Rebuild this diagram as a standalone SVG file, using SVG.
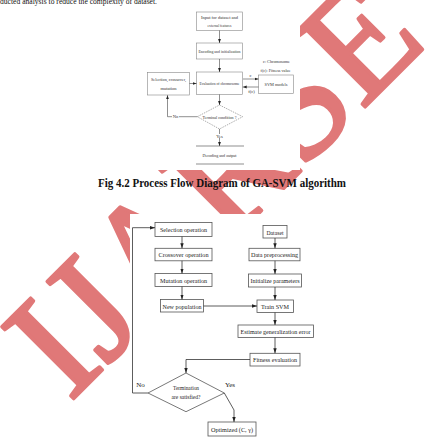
<svg xmlns="http://www.w3.org/2000/svg" width="438" height="445" viewBox="0 0 438 445">
<defs>
<style>
.wm{font-family:"Liberation Serif","Times New Roman",serif;font-size:155px;fill:#e07878;stroke:#e07878;stroke-width:3.5;stroke-linejoin:round}
.body{font-family:"Liberation Serif","Times New Roman",serif;font-size:9px;fill:#111}
.cap{font-family:"Liberation Serif","Times New Roman",serif;font-size:12px;font-weight:bold;fill:#111;text-anchor:middle}
.t1{font-family:"Liberation Serif","Times New Roman",serif;font-size:4.6px;fill:#333;text-anchor:middle}
.t2{font-family:"Liberation Serif","Times New Roman",serif;font-size:7px;fill:#222;text-anchor:middle}
.b1{fill:#fff;stroke:#888;stroke-width:0.6}
.b2{fill:#fff;stroke:#555;stroke-width:0.8}
.c1{fill:none;stroke:#444;stroke-width:0.6}
.c2{fill:none;stroke:#333;stroke-width:0.8}
.cover{fill:#fff}
</style>
<marker id="a1" markerUnits="userSpaceOnUse" markerWidth="4" markerHeight="4" viewBox="0 0 4 4" refX="4" refY="2" orient="auto"><path d="M0,0.6 L4,2 L0,3.4z" fill="#222"/></marker>
<marker id="a2" markerUnits="userSpaceOnUse" markerWidth="5" markerHeight="4" viewBox="0 0 5 4" refX="5" refY="2" orient="auto"><path d="M0,0.3 L5,2 L0,3.7z" fill="#222"/></marker>
</defs>
<rect width="438" height="445" fill="#fff"/>
<text class="wm" transform="translate(69.7,402.4) rotate(-45)">IJARSE</text>
<rect class="cover" x="140" y="0" width="160" height="170"/>
<rect class="cover" x="130" y="214" width="200" height="231"/>
<text class="body" x="0" y="4" textLength="157" lengthAdjust="spacingAndGlyphs">ducted analysis to reduce the complexity of dataset.</text>
<g id="diagram1">
<g id="d1-input"><rect class="b1" x="196.5" y="12" width="46" height="18.5"/><text class="t1" x="219.5" y="18.5" textLength="37" lengthAdjust="spacingAndGlyphs">Input for dataset and</text><text class="t1" x="219.5" y="26.5" textLength="24" lengthAdjust="spacingAndGlyphs">external features</text></g>
<g id="d1-encode"><rect class="b1" x="196.5" y="43" width="46" height="16"/><text class="t1" x="219.5" y="53" textLength="42" lengthAdjust="spacingAndGlyphs">Encoding and initialization</text></g>
<g id="d1-eval"><rect class="b1" x="196.5" y="72" width="46" height="22.5"/><text class="t1" x="219.5" y="85" textLength="40" lengthAdjust="spacingAndGlyphs">Evaluation of chromosome</text></g>
<g id="d1-gaop"><rect class="b1" x="147.5" y="72.5" width="42" height="22.5"/><text class="t1" x="168.5" y="81" textLength="35" lengthAdjust="spacingAndGlyphs">Selection, crossover,</text><text class="t1" x="168.5" y="89.5" textLength="16" lengthAdjust="spacingAndGlyphs">mutation</text></g>
<g id="d1-legend"><text class="t1" x="276.5" y="63" textLength="27" lengthAdjust="spacingAndGlyphs">c: Chromosome</text><text class="t1" x="275.5" y="71.5" textLength="30" lengthAdjust="spacingAndGlyphs">f(c): Fitness value</text></g>
<g id="d1-svm"><rect class="b1" x="258.5" y="75" width="35" height="18.5"/><text class="t1" x="276" y="86" textLength="23" lengthAdjust="spacingAndGlyphs">SVM models</text></g>
<g id="d1-term"><polygon points="197.3,116.7 219.5,105 242.7,116.7 219.5,129" fill="#fff" stroke="#777" stroke-width="0.6" stroke-dasharray="1.5 1"/><text class="t1" x="219.5" y="118.5" textLength="34" lengthAdjust="spacingAndGlyphs">Terminal condition ?</text></g>
<g id="d1-decode"><line class="c1" x1="196" y1="146" x2="244" y2="146" stroke="#999"/><line class="c1" x1="196" y1="164" x2="244" y2="164" stroke="#bbb"/><text class="t1" x="219.5" y="157" textLength="34" lengthAdjust="spacingAndGlyphs">Decoding and output</text></g>
<g id="d1-connectors">
<line class="c1" x1="219.5" y1="30.5" x2="219.5" y2="43" marker-end="url(#a1)"/>
<line class="c1" x1="219.5" y1="59" x2="219.5" y2="72" marker-end="url(#a1)"/>
<line class="c1" x1="189.5" y1="83.5" x2="196.5" y2="83.5" marker-end="url(#a1)"/>
<line class="c1" x1="243" y1="79" x2="258.5" y2="79" marker-end="url(#a1)"/>
<line class="c1" x1="258.5" y1="87" x2="242.7" y2="87" marker-end="url(#a1)"/>
<line class="c1" x1="219.5" y1="94.5" x2="219.5" y2="105" marker-end="url(#a1)"/>
<polyline class="c1" points="197.3,116.7 167.5,116.7 167.5,95.2" marker-end="url(#a1)"/>
<line class="c1" x1="219.5" y1="129" x2="219.5" y2="146" marker-end="url(#a1)"/>
<text class="t1" x="250.5" y="77">c</text>
<text class="t1" x="251.5" y="93">f(c)</text>
<rect class="cover" x="172" y="114.5" width="7" height="4"/><text class="t1" x="175.5" y="118.3">No</text>
<rect class="cover" x="216.5" y="134" width="6" height="4"/><text class="t1" x="219.5" y="137.5">Yes</text>
</g>
</g>
<text class="cap" x="222" y="187.3" textLength="248" lengthAdjust="spacingAndGlyphs">Fig 4.2 Process Flow Diagram of GA-SVM algorithm</text>
<g id="diagram2">
<g id="n-selection"><rect class="b2" x="155" y="222.5" width="57" height="14"/><text class="t2" x="183.5" y="232" textLength="47" lengthAdjust="spacingAndGlyphs">Selection operation</text></g>
<g id="n-crossover"><rect class="b2" x="155" y="248.3" width="57" height="12.5"/><text class="t2" x="183.5" y="257" textLength="50" lengthAdjust="spacingAndGlyphs">Crossover operation</text></g>
<g id="n-mutation"><rect class="b2" x="155" y="273.5" width="57" height="13"/><text class="t2" x="183.5" y="282.5" textLength="47" lengthAdjust="spacingAndGlyphs">Mutation operation</text></g>
<g id="n-newpop"><rect class="b2" x="160.5" y="299.5" width="43" height="12.5"/><text class="t2" x="182" y="308.5" textLength="39" lengthAdjust="spacingAndGlyphs">New population</text></g>
<g id="n-dataset"><rect class="b2" x="263" y="225.5" width="24" height="12.5"/><text class="t2" x="275" y="234.5" textLength="17" lengthAdjust="spacingAndGlyphs">Dataset</text></g>
<g id="n-preproc"><rect class="b2" x="249" y="248.3" width="51" height="12.5"/><text class="t2" x="274.5" y="257" textLength="47" lengthAdjust="spacingAndGlyphs">Data preprocessing</text></g>
<g id="n-init"><rect class="b2" x="248.5" y="274" width="53" height="13"/><text class="t2" x="275" y="283" textLength="49" lengthAdjust="spacingAndGlyphs">Initialize parameters</text></g>
<g id="n-train"><rect class="b2" x="257" y="300" width="36.5" height="12.5"/><text class="t2" x="275" y="309" textLength="28" lengthAdjust="spacingAndGlyphs">Train SVM</text></g>
<g id="n-estimate"><rect class="b2" x="238" y="325" width="75.5" height="12.5"/><text class="t2" x="275.5" y="334" textLength="70" lengthAdjust="spacingAndGlyphs">Estimate generalization error</text></g>
<g id="n-fitness"><rect class="b2" x="250" y="353.3" width="50" height="12.7"/><text class="t2" x="275" y="362.3" textLength="44" lengthAdjust="spacingAndGlyphs">Fitness evaluation</text></g>
<g id="n-termination"><polygon points="148,393 186,373 224.3,393 186,411.7" class="b2"/><text class="t2" x="186" y="390" textLength="26" lengthAdjust="spacingAndGlyphs">Termination</text><text class="t2" x="186" y="398.5" textLength="29" lengthAdjust="spacingAndGlyphs">are satisfied?</text></g>
<g id="n-optimized"><rect class="b2" x="208" y="422" width="48" height="14"/><text class="t2" x="232" y="431.5" textLength="42" lengthAdjust="spacingAndGlyphs">Optimized (C, γ)</text></g>
<g id="d2-connectors">
<line class="c2" x1="182" y1="236.5" x2="182" y2="248.3" marker-end="url(#a2)"/>
<line class="c2" x1="182" y1="260.8" x2="182" y2="273.5" marker-end="url(#a2)"/>
<line class="c2" x1="182" y1="286.5" x2="182" y2="299.5" marker-end="url(#a2)"/>
<line class="c2" x1="203.5" y1="306" x2="257" y2="306" marker-end="url(#a2)"/>
<line class="c2" x1="275" y1="238" x2="275" y2="248.3" marker-end="url(#a2)"/>
<line class="c2" x1="275" y1="260.8" x2="275" y2="274" marker-end="url(#a2)"/>
<line class="c2" x1="275" y1="287" x2="275" y2="300" marker-end="url(#a2)"/>
<line class="c2" x1="275" y1="312.5" x2="275" y2="325" marker-end="url(#a2)"/>
<line class="c2" x1="275" y1="337.5" x2="275" y2="353.3" marker-end="url(#a2)"/>
<polyline class="c2" points="250,359.5 186,359.5 186,373" marker-end="url(#a2)"/>
<polyline class="c2" points="148,393 132.5,393 132.5,227.7 155,227.7" marker-end="url(#a2)"/>
<polyline class="c2" points="224.3,393 234,410 234,422" marker-end="url(#a2)"/>
<text class="t2" x="140.5" y="386.5">No</text>
<text class="t2" x="230" y="386.5">Yes</text>
</g>
</g>
</svg>
